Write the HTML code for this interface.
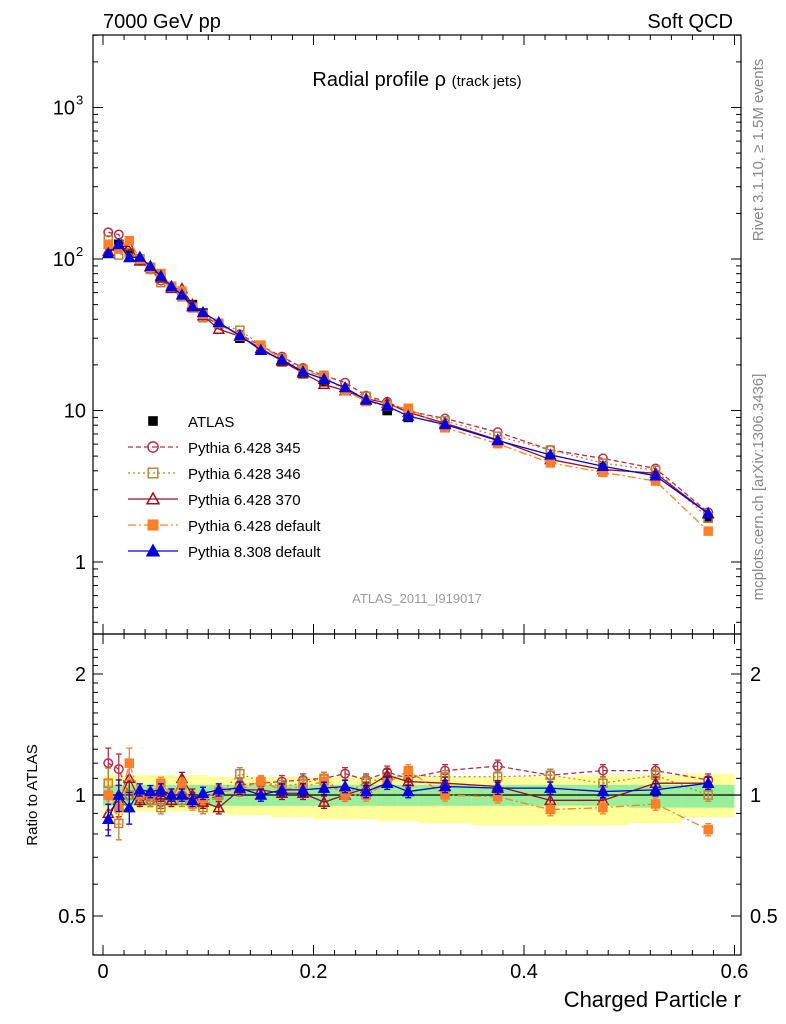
<!DOCTYPE html>
<html><head><meta charset="utf-8"><style>
html,body{margin:0;padding:0;background:#fff}
svg{display:block;font-family:"Liberation Sans",sans-serif}
</style></head><body>
<svg id="c" width="786" height="1024" viewBox="0 0 786 1024"></svg>
<script>
const xs=[0.005,0.015,0.025,0.035,0.045,0.055,0.065,0.075,0.085,0.095,0.11,0.13,0.15,0.17,0.19,0.21,0.23,0.25,0.27,0.29,0.325,0.375,0.425,0.475,0.525,0.575];
const edges=[0,0.01,0.02,0.03,0.04,0.05,0.06,0.07,0.08,0.09,0.1,0.12,0.14,0.16,0.18,0.2,0.22,0.24,0.26,0.28,0.3,0.35,0.4,0.45,0.5,0.55,0.6];
const atlas=[125,125,110,100,88,75,66,58,50,44,37,30,25,21,17.5,15.5,13.5,11.5,10,9,7.7,6.1,4.9,4.2,3.6,1.95];
const rP8=[0.87,1.0,0.93,1.03,1.02,1.03,1.0,1.0,0.97,1.01,1.03,1.04,1.0,1.03,1.03,1.04,1.05,1.02,1.07,1.02,1.05,1.04,1.04,1.02,1.03,1.07];
const r345=[1.2,1.16,1.0,0.98,0.97,0.96,1.0,1.0,0.98,0.96,1.0,1.06,1.07,1.08,1.09,1.1,1.13,1.09,1.14,1.1,1.15,1.18,1.12,1.15,1.15,1.09];
const r346=[1.07,0.85,1.0,1.0,0.97,0.93,0.97,0.97,0.96,0.93,1.0,1.13,1.08,1.05,1.07,1.1,1.0,1.08,1.1,1.12,1.11,1.11,1.12,1.07,1.12,1.0];
const r370=[0.9,0.97,1.1,0.97,1.0,1.0,0.97,1.1,1.0,0.96,0.93,1.03,1.03,1.01,1.01,0.96,1.0,1.04,1.12,1.08,1.07,1.05,0.97,0.97,1.07,1.07];
const rDef=[1.0,0.93,1.2,1.0,1.0,1.07,1.0,1.06,0.95,0.98,1.02,1.03,1.08,1.03,1.05,1.08,1.0,1.0,1.07,1.15,1.0,0.99,0.92,0.93,0.95,0.82];
const bandHi=[1.12,1.12,1.12,1.12,1.12,1.12,1.12,1.12,1.12,1.12,1.11,1.11,1.11,1.11,1.11,1.11,1.11,1.11,1.11,1.11,1.11,1.11,1.11,1.12,1.12,1.13];
const bandLo=[0.88,0.89,0.90,0.91,0.91,0.91,0.91,0.91,0.91,0.91,0.9,0.89,0.89,0.88,0.88,0.87,0.87,0.87,0.86,0.86,0.85,0.84,0.84,0.84,0.85,0.88];
const statHi=[1.06,1.06,1.06,1.06,1.06,1.06,1.06,1.06,1.06,1.06,1.06,1.06,1.06,1.06,1.06,1.06,1.06,1.06,1.06,1.06,1.06,1.06,1.06,1.06,1.06,1.06];
const statLo=[0.94,0.94,0.94,0.94,0.94,0.94,0.94,0.94,0.94,0.94,0.94,0.94,0.94,0.94,0.94,0.94,0.94,0.94,0.94,0.94,0.94,0.94,0.94,0.94,0.93,0.93];
const mainTicks=[1,10,100,1000];
const mainTickLabels=["1","10","10","10"];
const mainTickSup=["","","2","3"];
const ratioTicks=[0.5,1,2];
const xTicks=[0,0.2,0.4,0.6];

const L=93,R=741,T=35,M=634,B=955;
const X=v=>103+v*1052.5;
const Y=v=>562-Math.log10(v)*151.5;
const YR=v=>795-Math.log2(v)*121;
const svg=document.getElementById('c');
const NS='http://www.w3.org/2000/svg';
const MS=5;
function mk(tag,at,parent){const e=document.createElementNS(NS,tag);for(const k in at)e.setAttribute(k,at[k]);(parent||svg).appendChild(e);return e;}
function txt(s,at,parent){const e=mk('text',at,parent);e.textContent=s;return e;}

const bands=mk('g',{});


for(let i=0;i<xs.length;i++){
  const r=mk('rect',{x:X(edges[i]),y:YR(bandHi[i]),width:X(edges[i+1])-X(edges[i]),height:YR(bandLo[i])-YR(bandHi[i]),fill:'#ffff99'},bands);
  
  
}
for(let i=0;i<xs.length;i++){
  const r=mk('rect',{x:X(edges[i]),y:YR(statHi[i]),width:X(edges[i+1])-X(edges[i]),height:YR(statLo[i])-YR(statHi[i]),fill:'#99ee99'},bands);
  
  
}
mk('line',{x1:L,x2:R,y1:YR(1),y2:YR(1),stroke:'#000','stroke-width':1.2});

const f1=mk('rect',{x:L,y:T,width:R-L,height:M-T,fill:'none',stroke:'#000','stroke-width':1.2});

const f2=mk('rect',{x:L,y:M,width:R-L,height:B-M,fill:'none',stroke:'#000','stroke-width':1.2});


for(let d=-1;d<=3;d++){for(let k=1;k<10;k++){const v=k*Math.pow(10,d);const y=Y(v);if(y<T||y>M)continue;const len=k==1?10:5;
mk('line',{x1:L,x2:L+len,y1:y,y2:y,stroke:'#000'});mk('line',{x1:R,x2:R-len,y1:y,y2:y,stroke:'#000'});}}
mainTicks.forEach((v,i)=>{const t=txt(mainTickLabels[i],{x:mainTickSup[i]?75:86,y:Y(v)+7,'font-size':20,'text-anchor':'end'});

if(mainTickSup[i]){const s=txt(mainTickSup[i],{x:76,y:Y(v)-3,'font-size':13});}});
for(let v=0.3;v<=2.31;v+=0.1){const y=YR(v);if(y<M||y>B)continue;const major=[0.5,1,2].some(m=>Math.abs(m-v)<1e-6);const len=major?10:5;
mk('line',{x1:L,x2:L+len,y1:y,y2:y,stroke:'#000'});mk('line',{x1:R,x2:R-len,y1:y,y2:y,stroke:'#000'});}
ratioTicks.forEach(v=>{const a=txt(String(v),{x:86,y:YR(v)+7,'font-size':20,'text-anchor':'end'});
const b=txt(String(v),{x:750,y:YR(v)+7,'font-size':20});});
for(let i=0;i<=32;i++){const v=i*0.02;const x=X(v);if(x<L||x>R)continue;const major=i%10==0;const len=major?10:5;
[[M,-1],[T,1],[B,-1],[M,1]].forEach(([y0,s])=>mk('line',{x1:x,x2:x,y1:y0,y2:y0+s*len,stroke:'#000'}));}
xTicks.forEach(v=>{const t=txt(String(v),{x:X(v),y:978,'font-size':20,'text-anchor':'middle'});});

const series=[
 {name:'pythia-6428-345',r:r345,color:'#b0304a',dash:'5,3',m:'circle',fill:'none'},
 {name:'pythia-6428-346',r:r346,color:'#b8863b',dash:'2,3',m:'square',fill:'none'},
 {name:'pythia-6428-370',r:r370,color:'#9a1020',dash:'',m:'tri',fill:'none'},
 {name:'pythia-6428-default',r:rDef,color:'#ff7f2a',dash:'8,3,2,3',m:'square',fill:'#ff7f2a'},
 {name:'pythia-8308-default',r:rP8,color:'#0000dd',dash:'',m:'tri',fill:'#0000dd'}];
function marker(g,type,x,y,c,f,s){
 if(type=='circle')return mk('circle',{cx:x,cy:y,r:s*0.85,fill:f,stroke:c,'stroke-width':1.5},g);
 if(type=='square')return mk('rect',{x:x-s*0.8,y:y-s*0.8,width:s*1.6,height:s*1.6,fill:f,stroke:c,'stroke-width':1.5},g);
 if(type=='bsq')return mk('rect',{x:x-s*0.8,y:y-s*0.8,width:s*1.6,height:s*1.6,fill:'#000'},g);
 return mk('polygon',{points:`${x},${y-s} ${x-s},${y+s*0.8} ${x+s},${y+s*0.8}`,fill:f,stroke:c,'stroke-width':1.5},g);
}
const ga=mk('g',{});
xs.forEach((x,i)=>{const p=marker(ga,'bsq',X(x),Y(atlas[i]),'#000','#000',MS+1);});
series.forEach(s=>{
 const gm=mk('g',{});
 const pts=xs.map((x,i)=>X(x)+','+Y(atlas[i]*s.r[i])).join(' ');
 mk('polyline',{points:pts,fill:'none',stroke:s.color,'stroke-width':1.3,'stroke-dasharray':s.dash},gm);
 xs.forEach((x,i)=>{const p=marker(gm,s.m,X(x),Y(atlas[i]*s.r[i]),s.color,s.fill,MS);});
 const gr=mk('g',{});
 const pr=xs.map((x,i)=>X(x)+','+YR(s.r[i])).join(' ');
 mk('polyline',{points:pr,fill:'none',stroke:s.color,'stroke-width':1.3,'stroke-dasharray':s.dash},gr);
 xs.forEach((x,i)=>{const e=i<3?0.09:0.035;const y1=YR(s.r[i]*(1+e)),y2=YR(s.r[i]*(1-e));
  mk('line',{x1:X(x),x2:X(x),y1:y1,y2:y2,stroke:s.color,'stroke-width':1.3},gr);
  mk('line',{x1:X(x)-3,x2:X(x)+3,y1:y1,y2:y1,stroke:s.color,'stroke-width':1.3},gr);
  mk('line',{x1:X(x)-3,x2:X(x)+3,y1:y2,y2:y2,stroke:s.color,'stroke-width':1.3},gr);
  const p=marker(gr,s.m,X(x),YR(s.r[i]),s.color,s.fill,MS);});
});

const lg=mk('g',{});
const legendNames=['ATLAS','Pythia 6.428 345','Pythia 6.428 346','Pythia 6.428 370','Pythia 6.428 default','Pythia 8.308 default'];
legendNames.forEach((n,i)=>{const y=421+i*26;const e=mk('g',{},lg);
 if(i==0)marker(e,'bsq',153,y,'#000','#000',MS+1);else{const s=series[i-1];mk('line',{x1:128,x2:178,y1:y,y2:y,stroke:s.color,'stroke-width':1.3,'stroke-dasharray':s.dash},e);marker(e,s.m,153,y,s.color,s.fill,MS+1);}
 txt(n,{x:188,y:y+6,'font-size':15},e);});

const T1=txt('7000 GeV pp',{x:103,y:28,'font-size':20});
const T2=txt('Soft QCD',{x:733,y:28,'font-size':20,'text-anchor':'end'});
const T3=mk('text',{x:417,y:86,'font-size':20,'text-anchor':'middle'});
T3.innerHTML='Radial profile ρ <tspan font-size="15">(track jets)</tspan>';
const T4=txt('ATLAS_2011_I919017',{x:417,y:603,'font-size':13,'text-anchor':'middle',fill:'#999'});
const T5=txt('Rivet 3.1.10, ≥ 1.5M events',{x:0,y:0,'font-size':15,fill:'#888',transform:'translate(763,150) rotate(-90)','text-anchor':'middle'});
const T6=txt('mcplots.cern.ch [arXiv:1306.3436]',{x:0,y:0,'font-size':15,fill:'#888',transform:'translate(763,487) rotate(-90)','text-anchor':'middle'});
const T7=txt('Charged Particle r',{x:741,y:1007,'font-size':22,'text-anchor':'end'});
const T8=txt('Ratio to ATLAS',{x:0,y:0,'font-size':15,transform:'translate(37,795) rotate(-90)','text-anchor':'middle'});
</script>
</body></html>
